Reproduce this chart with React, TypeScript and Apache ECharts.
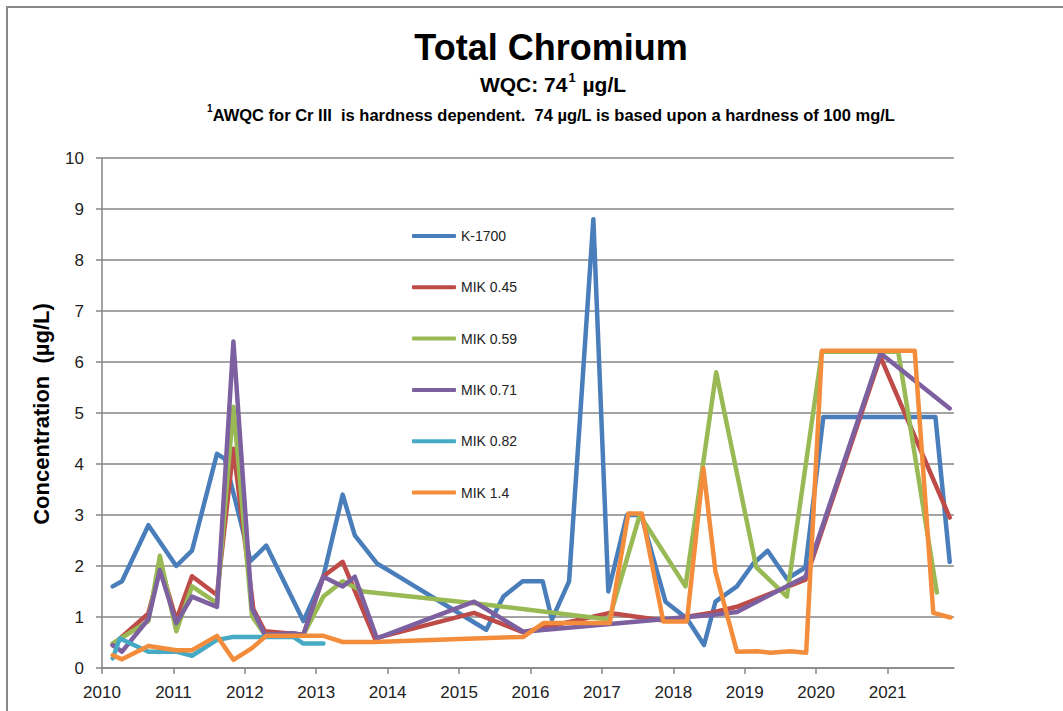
import React, { useEffect, useRef } from "react";
import * as echarts from "echarts";

const xTicks = [2010, 2011, 2012, 2013, 2014, 2015, 2016, 2017, 2018, 2019, 2020, 2021];
const yTicks = [0, 1, 2, 3, 4, 5, 6, 7, 8, 9, 10];

const seriesNames = ["K-1700", "MIK 0.45", "MIK 0.59", "MIK 0.71", "MIK 0.82", "MIK 1.4"];
const seriesColors = ["#4A7EBB", "#BE4B48", "#98B954", "#7D60A0", "#46AAC5", "#F38D3B"];

const k1700Dates = [2010.15, 2010.28, 2010.65, 2011.04, 2011.26, 2011.61, 2011.72, 2012.08, 2012.3, 2012.82, 2013.1, 2013.37, 2013.54, 2013.85, 2014.03, 2015.38, 2015.62, 2015.89, 2016.17, 2016.3, 2016.54, 2016.88, 2017.09, 2017.35, 2017.55, 2017.89, 2018.19, 2018.43, 2018.59, 2018.89, 2019.12, 2019.32, 2019.59, 2019.85, 2020.1, 2021.67, 2021.87];
const k1700Values = [1.6, 1.7, 2.8, 2.0, 2.3, 4.2, 4.1, 2.1, 2.4, 0.92, 1.8, 3.4, 2.6, 2.05, 1.9, 0.75, 1.4, 1.7, 1.7, 0.95, 1.7, 8.8, 1.5, 3.0, 3.0, 1.3, 0.97, 0.45, 1.3, 1.6, 2.05, 2.3, 1.75, 1.97, 4.92, 4.92, 2.08];

const mik045Dates = [2010.15, 2010.65, 2010.82, 2011.04, 2011.26, 2011.61, 2011.84, 2012.12, 2012.28, 2012.82, 2013.1, 2013.37, 2013.82, 2015.21, 2015.9, 2017.11, 2017.86, 2018.52, 2018.89, 2019.85, 2020.9, 2021.87];
const mik045Values = [0.45, 1.07, 2.0, 0.94, 1.8, 1.43, 4.3, 1.15, 0.72, 0.65, 1.8, 2.08, 0.58, 1.08, 0.7, 1.08, 0.93, 1.08, 1.2, 1.73, 6.1, 2.95];

const mik059Dates = [2010.15, 2010.65, 2010.81, 2011.04, 2011.26, 2011.61, 2011.84, 2012.1, 2012.28, 2012.82, 2013.1, 2013.37, 2013.66, 2015.21, 2017.1, 2017.53, 2018.17, 2018.6, 2019.16, 2019.59, 2020.08, 2021.15, 2021.69];
const mik059Values = [0.48, 0.92, 2.2, 0.72, 1.6, 1.27, 5.12, 1.02, 0.65, 0.65, 1.4, 1.7, 1.5, 1.27, 0.95, 3.0, 1.6, 5.8, 1.98, 1.4, 6.2, 6.2, 1.48];

const mik071Dates = [2010.15, 2010.28, 2010.65, 2010.81, 2011.04, 2011.26, 2011.61, 2011.84, 2012.1, 2012.28, 2012.68, 2012.82, 2013.1, 2013.37, 2013.54, 2013.85, 2015.21, 2015.9, 2018.52, 2018.89, 2019.85, 2020.9, 2021.87];
const mik071Values = [0.45, 0.32, 0.96, 1.92, 0.88, 1.4, 1.2, 6.4, 1.17, 0.65, 0.68, 0.65, 1.79, 1.6, 1.79, 0.58, 1.3, 0.71, 1.04, 1.1, 1.79, 6.17, 5.09];

const mik082Dates = [2010.15, 2010.25, 2010.65, 2011.04, 2011.26, 2011.61, 2011.84, 2012.28, 2012.68, 2012.82, 2013.1];
const mik082Values = [0.19, 0.58, 0.32, 0.32, 0.24, 0.55, 0.61, 0.61, 0.61, 0.48, 0.48];

const mik14Dates = [2010.15, 2010.28, 2010.65, 2011.04, 2011.26, 2011.61, 2011.84, 2012.1, 2012.3, 2012.82, 2013.1, 2013.37, 2013.82, 2015.21, 2015.9, 2016.18, 2017.11, 2017.37, 2017.56, 2017.86, 2018.19, 2018.42, 2018.59, 2018.89, 2019.17, 2019.36, 2019.64, 2019.86, 2020.08, 2021.38, 2021.64, 2021.88];
const mik14Values = [0.25, 0.17, 0.43, 0.35, 0.35, 0.63, 0.16, 0.39, 0.63, 0.63, 0.63, 0.51, 0.51, 0.58, 0.61, 0.88, 0.88, 3.03, 3.03, 0.91, 0.91, 3.92, 1.89, 0.32, 0.33, 0.3, 0.33, 0.3, 6.22, 6.22, 1.08, 0.99];

const allDates = [k1700Dates, mik045Dates, mik059Dates, mik071Dates, mik082Dates, mik14Dates];
const allValues = [k1700Values, mik045Values, mik059Values, mik071Values, mik082Values, mik14Values];

const FONT = "'Liberation Sans', Arial, sans-serif";
const GRID = "#868686";

export default function App() {
  const ref = useRef<HTMLDivElement>(null);
  useEffect(() => {
    if (!ref.current) return;
    const chart = echarts.init(ref.current, undefined, { renderer: "svg" });
    const series = seriesNames.map((name, i) => ({
      name,
      type: "line",
      data: allDates[i].map((d, j) => [d, allValues[i][j]]),
      symbol: "none",
      showSymbol: false,
      lineStyle: { color: seriesColors[i], width: 4.5, cap: "round", join: "round" },
      itemStyle: { color: seriesColors[i] },
      z: 2 + i,
    }));
    chart.setOption({
      animation: false,
      backgroundColor: "#ffffff",
      grid: { left: 102, right: 109, top: 158, bottom: 43, containLabel: false },
      xAxis: {
        type: "value",
        min: 2010,
        max: 2021.93,
        interval: 1,
        axisLine: { show: true, lineStyle: { color: GRID, width: 1.5 } },
        axisTick: { show: true, length: 6, customValues: xTicks, lineStyle: { color: GRID, width: 1.5 } },
        axisLabel: { customValues: xTicks, margin: 16, fontSize: 17, color: "#222", fontFamily: FONT, formatter: (v: number) => String(v) },
        splitLine: { show: false },
      },
      yAxis: {
        type: "value",
        min: 0,
        max: 10,
        interval: 1,
        axisLine: { show: true, lineStyle: { color: GRID, width: 1.5 } },
        axisTick: { show: true, length: 6, customValues: yTicks, lineStyle: { color: GRID, width: 1.5 } },
        axisLabel: { customValues: yTicks, margin: 18, fontSize: 17, color: "#222", fontFamily: FONT },
        splitLine: { show: true, lineStyle: { color: GRID, width: 1.5 } },
      },
      legend: {
        orient: "vertical",
        left: 407,
        top: 221,
        icon: "roundRect",
        itemWidth: 44,
        itemHeight: 4,
        itemGap: 31.3,
        data: seriesNames,
        textStyle: { fontSize: 14, color: "#222", fontFamily: FONT, height: 20, lineHeight: 20 },
      },
      graphic: [
        {
          type: "rect",
          shape: { x: 7, y: 7, width: 1200, height: 900 },
          style: { fill: "none", stroke: "#888888", lineWidth: 2 },
          silent: true,
        },
        {
          type: "text",
          x: 551,
          y: 47,
          style: {
            text: "Total Chromium",
            font: `bold 36px ${FONT}`,
            fill: "#000",
            textAlign: "center",
            textVerticalAlign: "middle",
          },
        },
        {
          type: "text",
          x: 553,
          y: 83,
          style: {
            text: "{a|WQC: 74}{s|1}{a| µg/L}",
            textAlign: "center",
            textVerticalAlign: "middle",
            rich: {
              a: { font: `bold 21px ${FONT}`, fill: "#000", lineHeight: 24, verticalAlign: "bottom" },
              s: { font: `bold 13px ${FONT}`, fill: "#000", lineHeight: 24, verticalAlign: "top", padding: [0, 1, 0, 1] },
            },
          },
        },
        {
          type: "text",
          x: 551,
          y: 113,
          style: {
            text: "{s|1}{a|AWQC for Cr III  is hardness dependent.  74 µg/L is based upon a hardness of 100 mg/L}",
            textAlign: "center",
            textVerticalAlign: "middle",
            rich: {
              a: { font: `bold 16.5px ${FONT}`, fill: "#000", lineHeight: 20, verticalAlign: "bottom" },
              s: { font: `bold 10px ${FONT}`, fill: "#000", lineHeight: 20, verticalAlign: "top" },
            },
          },
        },
        {
          type: "text",
          x: 41,
          y: 414,
          rotation: Math.PI / 2,
          style: {
            text: "Concentration  (µg/L)",
            font: `bold 22px ${FONT}`,
            fill: "#000",
            textAlign: "center",
            textVerticalAlign: "middle",
          },
        },
      ],
      series,
    });
    return () => chart.dispose();
  }, []);
  return (
    <div
      ref={ref}
      style={{ position: "fixed", left: 0, top: 0, width: 1063, height: 711, background: "#fff" }}
    />
  );
}
